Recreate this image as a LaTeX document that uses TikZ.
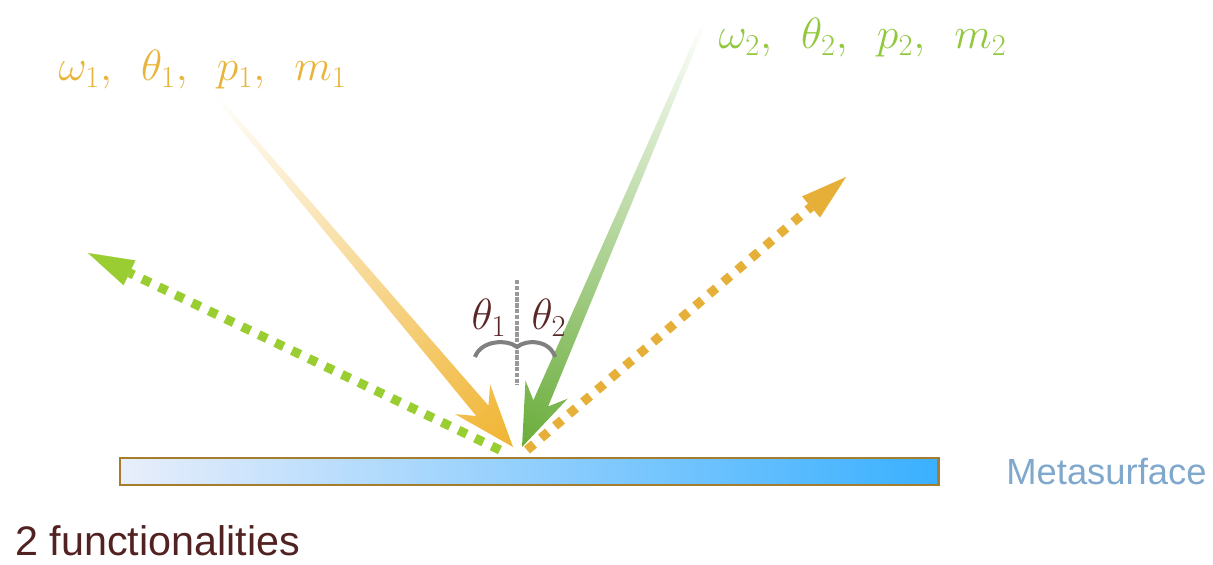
\documentclass[tikz,border=0pt]{standalone}
\usepackage{fontspec}
\newfontfamily\labelfont{Liberation Sans}
\usetikzlibrary{arrows.meta}
\definecolor{beamorange}{HTML}{F0B430}
\definecolor{labelorange}{HTML}{E9B43A}
\definecolor{dotorange}{HTML}{E6AF37}
\definecolor{beamgreen}{HTML}{6AAD3B}
\definecolor{midgreen}{HTML}{A9D372}
\definecolor{labelgreen}{HTML}{92C83E}
\definecolor{dotgreen}{HTML}{9ACD32}
\definecolor{surfleft}{HTML}{E8EEFB}
\definecolor{surfright}{HTML}{3AB0FF}
\definecolor{surfedge}{HTML}{A57D2C}
\definecolor{surftext}{HTML}{7FA8CC}
\definecolor{darkbrown}{HTML}{5B2626}
\tikzset{
  dotbeam/.style={line width=5.2pt, dash pattern=on 5.2pt off 5.3pt,
    -{Triangle[length=0.92cm, width=0.55cm, line width=0.1pt]}},
  beamlabel/.style={anchor=west, font=\fontsize{25}{30}\selectfont},
  anglelabel/.style={text=darkbrown, font=\fontsize{26}{30}\selectfont},
  sidetext/.style={anchor=base west, inner sep=0pt, font=\labelfont\fontsize{20.7}{24}\selectfont}
}
\begin{document}
\begin{tikzpicture}
  \useasboundingbox (0,0) rectangle (24.26,11.28);

  % Metasurface
  \shadedraw[left color=surfleft, right color=surfright, draw=surfedge, line width=1.7pt]
    (2.40,1.58) rectangle (18.76,2.12);
  \node[sidetext, text=surftext] (meta) at (20.12,1.60) {Metasurface};
  \node[sidetext, text=darkbrown!90!black, font=\labelfont\fontsize{23.5}{28}\selectfont] (func) at (0.30,0.17) {2 functionalities};

  % Reflected beams
  \coordinate (Gs) at (10.00,2.28);
  \coordinate (Gt) at (1.76,6.22);
  \coordinate (Os) at (10.54,2.28);
  \coordinate (Ot) at (16.92,7.74);
  \draw[dotbeam, dotgreen] (Gs) -- (Gt);
  \draw[dotbeam, dotorange] (Os) -- (Ot);

  % Incident beams
  \begin{scope}[transform canvas={shift={(10.26,2.34)}, rotate=-49.75}]
    \shade[left color=white, middle color=beamorange!50, right color=beamorange]
      (0,0) -- (-1.25,0.46) -- (-0.95,0.16) -- (-9.22,0.04) -- (-9.22,-0.04)
      -- (-0.95,-0.16) -- (-1.25,-0.46) -- cycle;
  \end{scope}
  \begin{scope}[transform canvas={shift={(10.44,2.34)}, rotate=-113.2}]
    \shade[left color=white, middle color=midgreen, right color=beamgreen]
      (0,0) -- (-1.25,0.46) -- (-0.95,0.16) -- (-9.29,0.04) -- (-9.29,-0.04)
      -- (-0.95,-0.16) -- (-1.25,-0.46) -- cycle;
  \end{scope}

  % Normal and angles
  \coordinate (Ntop) at (10.34,5.68);
  \coordinate (Nbot) at (10.34,3.58);
  \coordinate (C) at (10.34,4.34);
  \draw[gray!80, line width=2pt, dash pattern=on 2.5pt off 0.8pt] (Ntop) -- (Nbot);
  \draw[gray, line width=2.3pt] (9.50,4.14) .. controls (9.62,4.48) and (10.15,4.50) .. (C)
    .. controls (10.53,4.50) and (11.00,4.48) .. (11.10,4.14);
  \node[anglelabel] (t1) at (9.78,4.92) {$\theta_1$};
  \node[anglelabel] (t2) at (10.98,4.92) {$\theta_2$};

  % Beam parameters
  \node[beamlabel, text=labelorange] (p1) at (1.05,9.88) {$\omega_1,\,\,\,\theta_1,\,\,\,p_1,\,\,\,m_1$};
  \node[beamlabel, text=labelgreen] (p2) at (14.25,10.52) {$\omega_2,\,\,\,\theta_2,\,\,\,p_2,\,\,\,m_2$};
\end{tikzpicture}
\end{document}
